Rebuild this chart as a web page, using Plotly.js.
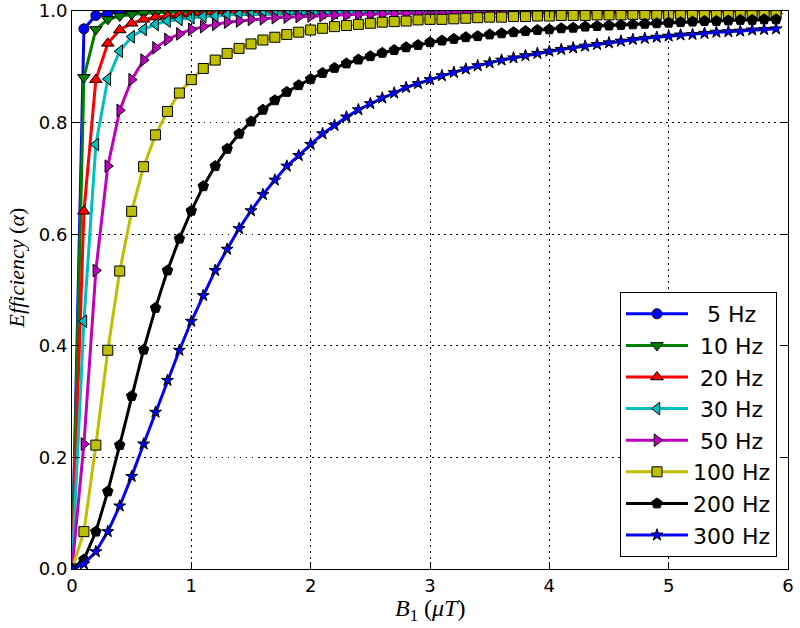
<!DOCTYPE html>
<html>
<head>
<meta charset="utf-8">
<script src="https://cdn.plot.ly/plotly-3.0.1.min.js"></script>
<style>html,body{margin:0;padding:0;background:#fff;}#chart{width:800px;height:628px;}</style>
</head>
<body>
<div id="chart"></div>
<script>
// B1 field values (µT)
const b1 = [0.0,0.1,0.2,0.3,0.4,0.5,0.6,0.7,0.8,0.9,
  1.0,1.1,1.2,1.3,1.4,1.5,1.6,1.7,1.8,1.9,
  2.0,2.1,2.2,2.3,2.4,2.5,2.6,2.7,2.8,2.9,
  3.0,3.1,3.2,3.3,3.4,3.5,3.6,3.7,3.8,3.9,
  4.0,4.1,4.2,4.3,4.4,4.5,4.6,4.7,4.8,4.9,
  5.0,5.1,5.2,5.3,5.4,5.5,5.6,5.7,5.8,5.9];

const seriesNames = ['5 Hz', '10 Hz', '20 Hz', '30 Hz', '50 Hz', '100 Hz', '200 Hz', '300 Hz'];

const eff5 = [0.000,0.968,0.992,0.996,0.998,0.999,0.999,0.999,1.000,1.000,
  1.000,1.000,1.000,1.000,1.000,1.000,1.000,1.000,1.000,1.000,
  1.000,1.000,1.000,1.000,1.000,1.000,1.000,1.000,1.000,1.000,
  1.000,1.000,1.000,1.000,1.000,1.000,1.000,1.000,1.000,1.000,
  1.000,1.000,1.000,1.000,1.000,1.000,1.000,1.000,1.000,1.000,
  1.000,1.000,1.000,1.000,1.000,1.000,1.000,1.000,1.000,1.000];

const eff10 = [0.000,0.881,0.967,0.985,0.991,0.994,0.996,0.997,0.998,0.998,
  0.999,0.999,0.999,0.999,0.999,0.999,1.000,1.000,1.000,1.000,
  1.000,1.000,1.000,1.000,1.000,1.000,1.000,1.000,1.000,1.000,
  1.000,1.000,1.000,1.000,1.000,1.000,1.000,1.000,1.000,1.000,
  1.000,1.000,1.000,1.000,1.000,1.000,1.000,1.000,1.000,1.000,
  1.000,1.000,1.000,1.000,1.000,1.000,1.000,1.000,1.000,1.000];

const eff20 = [0.000,0.641,0.877,0.942,0.966,0.978,0.985,0.989,0.991,0.993,
  0.994,0.995,0.996,0.997,0.997,0.998,0.998,0.998,0.998,0.999,
  0.999,0.999,0.999,0.999,0.999,0.999,0.999,0.999,0.999,1.000,
  1.000,1.000,1.000,1.000,1.000,1.000,1.000,1.000,1.000,1.000,
  1.000,1.000,1.000,1.000,1.000,1.000,1.000,1.000,1.000,1.000,
  1.000,1.000,1.000,1.000,1.000,1.000,1.000,1.000,1.000,1.000];

const eff30 = [0.000,0.444,0.761,0.878,0.928,0.954,0.967,0.976,0.982,0.985,
  0.988,0.990,0.991,0.993,0.994,0.994,0.995,0.996,0.996,0.997,
  0.997,0.997,0.997,0.998,0.998,0.998,0.998,0.998,0.998,0.998,
  0.999,0.999,0.999,0.999,0.999,0.999,0.999,0.999,0.999,0.999,
  0.999,0.999,0.999,0.999,0.999,0.999,0.999,0.999,0.999,0.999,
  0.999,0.999,0.999,0.999,0.999,1.000,1.000,1.000,1.000,1.000];

const eff50 = [0.000,0.224,0.535,0.722,0.822,0.877,0.912,0.934,0.949,0.959,
  0.967,0.972,0.976,0.980,0.982,0.985,0.986,0.988,0.989,0.990,
  0.991,0.992,0.993,0.993,0.994,0.994,0.995,0.995,0.996,0.996,
  0.996,0.996,0.997,0.997,0.997,0.997,0.997,0.997,0.998,0.998,
  0.998,0.998,0.998,0.998,0.998,0.998,0.998,0.998,0.999,0.999,
  0.999,0.999,0.999,0.999,0.999,0.999,0.999,0.999,0.999,0.999];

const eff100 = [0.000,0.067,0.222,0.392,0.534,0.641,0.721,0.778,0.820,0.853,
  0.877,0.897,0.912,0.924,0.933,0.941,0.948,0.953,0.958,0.962,
  0.966,0.969,0.972,0.974,0.976,0.978,0.980,0.981,0.982,0.984,
  0.985,0.985,0.986,0.987,0.988,0.989,0.989,0.990,0.990,0.991,
  0.991,0.992,0.992,0.992,0.993,0.993,0.993,0.994,0.994,0.994,
  0.994,0.995,0.995,0.995,0.995,0.995,0.996,0.996,0.996,0.996];

const eff200 = [0.000,0.017,0.067,0.139,0.222,0.310,0.393,0.468,0.535,0.592,
  0.642,0.686,0.722,0.753,0.780,0.802,0.823,0.840,0.855,0.867,
  0.878,0.889,0.898,0.906,0.913,0.919,0.925,0.930,0.935,0.939,
  0.944,0.947,0.950,0.953,0.955,0.958,0.960,0.962,0.964,0.966,
  0.967,0.969,0.970,0.972,0.973,0.974,0.975,0.976,0.977,0.978,
  0.979,0.980,0.981,0.982,0.982,0.983,0.984,0.984,0.985,0.985];

const eff300 = [0.000,0.009,0.031,0.067,0.113,0.166,0.224,0.281,0.338,0.392,
  0.444,0.490,0.535,0.573,0.610,0.642,0.671,0.697,0.722,0.741,
  0.761,0.780,0.795,0.810,0.823,0.834,0.844,0.853,0.863,0.870,
  0.877,0.884,0.890,0.896,0.902,0.907,0.912,0.916,0.920,0.924,
  0.928,0.931,0.934,0.937,0.940,0.943,0.946,0.949,0.951,0.953,
  0.955,0.957,0.958,0.960,0.962,0.963,0.964,0.966,0.967,0.968];

const xTickVals = [0, 1, 2, 3, 4, 5, 6];
const xTickText = ['0', '1', '2', '3', '4', '5', '6'];
const yTickVals = [0.0, 0.2, 0.4, 0.6, 0.8, 1.0];
const yTickText = ['0.0', '0.2', '0.4', '0.6', '0.8', '1.0'];

const allSeries = [eff5, eff10, eff20, eff30, eff50, eff100, eff200, eff300];

// styles (kept separate from data)
const colors = ['#0000ff', '#008000', '#ff0000', '#00bfbf', '#bf00bf', '#bfbf00', '#000000', '#0000ff'];
const symbols = ['circle', 'triangle-down', 'triangle-up', 'triangle-left', 'triangle-right', 'square', 'pentagon', 'star'];
const msizes = [10, 11, 11, 11, 11, 10, 11, 9];
const legendPad = ['\u00a0\u00a0', '\u00a0', '\u00a0', '\u00a0', '\u00a0', '', '', ''];

const traces = allSeries.map((ys, i) => ({
  type: 'scatter',
  mode: 'lines+markers',
  x: b1,
  y: ys,
  name: legendPad[i] + seriesNames[i],
  legendgroup: 'g' + i,
  line: {color: colors[i], width: 3},
  marker: {symbol: symbols[i], size: msizes[i], color: colors[i], line: {color: '#000000', width: 1}},
  cliponaxis: true
}));

const tickFont = {family: 'DejaVu Sans', size: 18, color: '#000000'};
const axisCommon = {
  showline: true, linecolor: '#000000', linewidth: 1, mirror: 'ticks',
  ticks: 'inside', ticklen: 7, tickwidth: 1, tickcolor: '#000000',
  showgrid: true, gridcolor: '#000000', gridwidth: 1, griddash: '1.5px,4.5px',
  zeroline: false, tickfont: tickFont, fixedrange: true
};

const layout = {
  width: 800, height: 628,
  margin: {l: 72, r: 12, t: 11, b: 59},
  paper_bgcolor: '#ffffff', plot_bgcolor: '#ffffff',
  showlegend: true,
  xaxis: Object.assign({}, axisCommon, {range: [0, 6], tickmode: 'array', tickvals: xTickVals, ticktext: xTickText}),
  yaxis: Object.assign({}, axisCommon, {range: [0, 1], tickmode: 'array', tickvals: yTickVals, ticktext: yTickText}),
  legend: {
    x: 0.9846, y: 0.0215, xanchor: 'right', yanchor: 'bottom',
    bgcolor: '#ffffff', bordercolor: '#000000', borderwidth: 1,
    font: {family: 'DejaVu Sans', size: 22, color: '#000000'},
    itemwidth: 62, tracegroupgap: 0
  },
  annotations: [
    {text: '<i>B</i><sub>1</sub> (<i>μT</i>)', xref: 'paper', yref: 'paper', x: 0.5, y: -0.0735,
     xanchor: 'center', yanchor: 'middle', showarrow: false,
     font: {family: 'Liberation Serif', size: 24, color: '#000000'}},
    {text: '<i>Efficiency</i> (<i>α</i>)', xref: 'paper', yref: 'paper', x: -0.078, y: 0.539,
     xanchor: 'center', yanchor: 'middle', showarrow: false, textangle: -90,
     font: {family: 'Liberation Serif', size: 22, color: '#000000'}}
  ]
};

Plotly.newPlot('chart', traces, layout, {displayModeBar: false, staticPlot: true});
</script>
</body>
</html>
